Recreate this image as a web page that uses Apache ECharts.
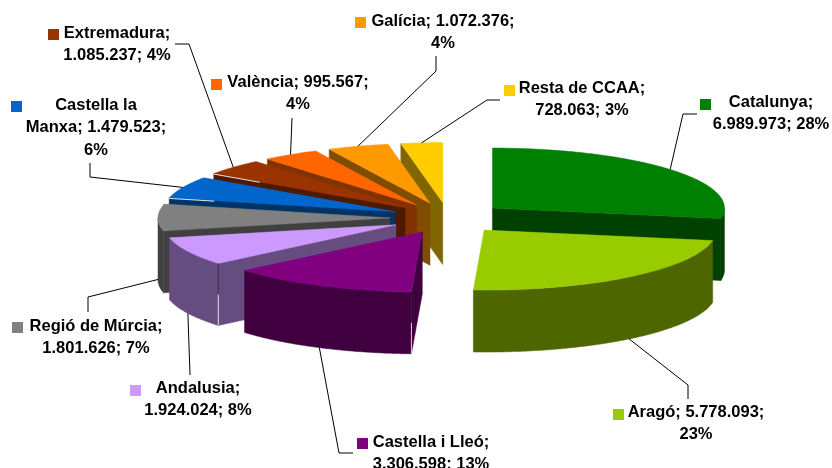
<!DOCTYPE html>
<html>
<head>
<meta charset="utf-8">
<style>html,body{margin:0;padding:0;background:#fff}#c{width:832px;height:468px}</style>
<script src="https://cdn.jsdelivr.net/npm/echarts@6/dist/echarts.min.js"></script>
</head>
<body>
<div id="c"></div>
<script>
// ---- data ----
const regions = ['Catalunya','Aragó','Castella i Lleó','Andalusia','Regió de Múrcia','Castella la Manxa','Extremadura','València','Galícia','Resta de CCAA'];
const values = [6989973,5778093,3306598,1924024,1801626,1479523,1085237,995567,1072376,728063];
const labelLines = [
  ['Catalunya;','6.989.973; 28%'],
  ['Aragó; 5.778.093;','23%'],
  ['Castella i Lleó;','3.306.598; 13%'],
  ['Andalusia;','1.924.024; 8%'],
  ['Regió de Múrcia;','1.801.626; 7%'],
  ['Castella la','Manxa; 1.479.523;','6%'],
  ['Extremadura;','1.085.237; 4%'],
  ['València; 995.567;','4%'],
  ['Galícia; 1.072.376;','4%'],
  ['Resta de CCAA;','728.063; 3%']
];
// ---- styles ----
const topColors = ['#008000','#99CC00','#800080','#CC99FF','#808080','#0066CC','#993300','#FF6600','#FF9900','#FFCC00'];
const wallColors = ['#004000','#4D6600','#400040','#664D80','#404040','#003366','#4D1A00','#803300','#804D00','#806600'];
// ---- layout ----
const CX = 448, CY = 218, RX = 232, RY = 60, EX = 58, EY = 15.5, DEPTH = 62, FONT = 'bold 16.5px "Liberation Sans", Arial, sans-serif', LH = 22.5;
const labelCenterX = [771,696,431,198,96,96,117,298,443,582];
const labelTopY = [102,412,442,388,326,105,33,82,21,88];
const keyPos = [[700,99],[613,409],[357,438],[130,385],[12,322],[11,101],[48,29],[211,79],[355,17],[504,85]];
const leaderTail = [
  [[683,114],[697,114]],
  [[688,385],[688,399]],
  [[339,453],[353,453]],
  [[190,375]],
  [[88,297],[88,312]],
  [[90,177],[90,163]],
  [[189,44],[175,44]],
  [[292,118]],
  [[436,71],[436,56]],
  [[487,100],[500,100]]
];
const drawOrder = [9,8,7,6,5,4,3,0,2,1];
// light edge glints: slice index, share of the start edge from the rim inward
const rimGlints = [[6,0.24],[5,0.2]];
const wallGlints = [3,2];

const total = values.reduce((a,b)=>a+b,0);
const rad = d => d*Math.PI/180;
const slices = []; let acc = 0;
values.forEach(v => { const s = acc/total*360; acc += v; slices.push({s, e: acc/total*360, m: (s + acc/total*360)/2}); });
function apex(i){ const m = rad(slices[i].m); return [CX + EX*Math.sin(m), CY - EY*Math.cos(m)]; }
function rimPoint(i, t){ const a = apex(i); return [a[0] + RX*Math.sin(rad(t)), a[1] - RY*Math.cos(rad(t))]; }
function arc(i, a, b){ const pts = []; const n = Math.max(2, Math.ceil(Math.abs(b-a)*2)); for(let k=0;k<=n;k++) pts.push(rimPoint(i, a+(b-a)*k/n)); return pts; }
const down = p => [p[0], p[1]+DEPTH];
function poly(points, fill){ return {type:'polygon', shape:{points}, style:{fill, stroke:fill, lineWidth:0.5}}; }

function renderSlice(params, api){
  const i = drawOrder[api.value(0)], sl = slices[i], a = apex(i), wall = wallColors[i], children = [];
  // radial cut faces that look towards the viewer
  [[sl.s, 1],[sl.e, -1]].forEach(([t, side]) => {
    const r = rimPoint(i, t);
    const dx = r[0]-a[0];
    const ny = side > 0 ? -dx : dx; // outward normal, screen y
    if (ny > 0.01) children.push(poly([a, r, down(r), down(a)], wall));
  });
  // curved outer wall, front half only
  const f0 = Math.max(sl.s, 90), f1 = Math.min(sl.e, 270);
  if (f1 > f0) { const top = arc(i, f0, f1); children.push(poly(top.concat(top.map(down).reverse()), wall)); }
  // top face
  children.push(poly([a].concat(arc(i, sl.s, sl.e)), topColors[i]));
  // glints
  rimGlints.forEach(([g, share]) => {
    if (g !== i) return;
    const r = rimPoint(i, sl.s);
    children.push({type:'line', shape:{x1:r[0], y1:r[1]+0.5, x2:r[0]+(a[0]-r[0])*share, y2:r[1]+(a[1]-r[1])*share+0.5}, style:{stroke:'#fff', lineWidth:1, opacity:0.85}});
  });
  if (wallGlints.indexOf(i) >= 0) {
    const r = rimPoint(i, sl.s);
    children.push({type:'line', shape:{x1:r[0], y1:r[1]+DEPTH*0.5, x2:r[0], y2:r[1]+DEPTH}, style:{stroke:'#fff', lineWidth:1, opacity:0.8}});
    children.push({type:'line', shape:{x1:r[0], y1:r[1], x2:r[0], y2:r[1]+DEPTH*0.5}, style:{stroke:'#222', lineWidth:1, opacity:0.6}});
  }
  return {type:'group', children};
}

function renderLabel(params, api){
  const i = api.value(0), m = slices[i].m, children = [];
  let anchor = rimPoint(i, m);
  if (Math.cos(rad(m)) < 0.02) anchor = down(anchor);
  children.push({type:'polyline', shape:{points:[anchor].concat(leaderTail[i])}, style:{fill:null, stroke:'#000', lineWidth:1}});
  children.push({type:'rect', shape:{x:keyPos[i][0], y:keyPos[i][1], width:11, height:11}, style:{fill:topColors[i]}});
  labelLines[i].forEach((line, k) => {
    children.push({type:'text', style:{text:line, x:labelCenterX[i], y:labelTopY[i]+k*LH, align:'center', verticalAlign:'middle', font:FONT, fill:'#000'}});
  });
  return {type:'group', children};
}

const chart = echarts.init(document.getElementById('c'), null, {renderer:'canvas'});
chart.setOption({
  animation:false,
  backgroundColor:'#fff',
  series:[
    {type:'custom', coordinateSystem:'none', silent:true, renderItem:renderSlice, data:drawOrder.map((_,k)=>[k]), z:1},
    {type:'custom', coordinateSystem:'none', silent:true, renderItem:renderLabel, data:regions.map((_,k)=>[k]), z:2}
  ]
});
</script>
</body>
</html>
